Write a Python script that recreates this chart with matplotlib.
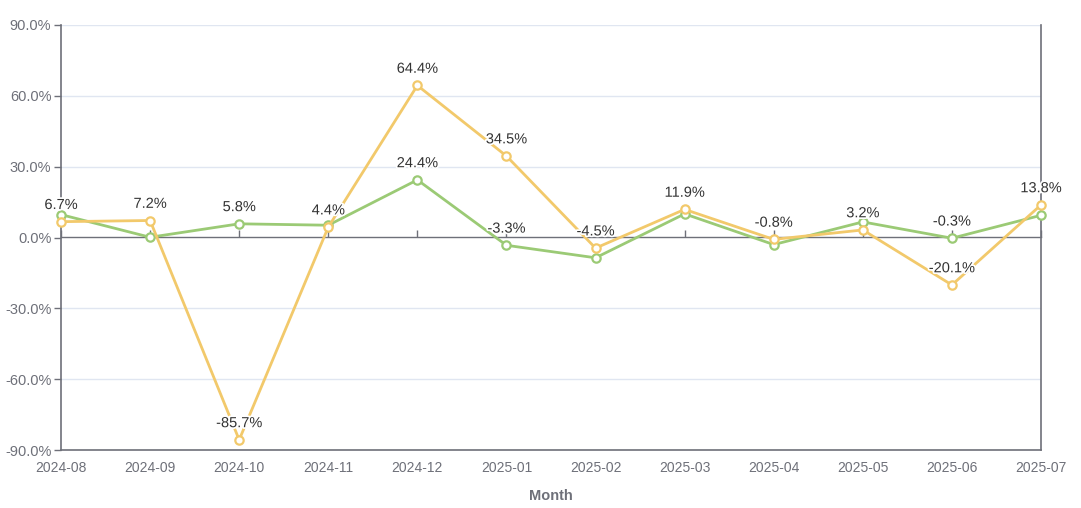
import numpy as np
import matplotlib
matplotlib.use("Agg")
import matplotlib.pyplot as plt
import matplotlib.patheffects as pe

plt.rcParams["font.family"] = ["Liberation Sans", "DejaVu Sans"]

months = ["2024-08", "2024-09", "2024-10", "2024-11", "2024-12", "2025-01",
          "2025-02", "2025-03", "2025-04", "2025-05", "2025-06", "2025-07"]
yellow_vals = [6.7, 7.2, -85.7, 4.4, 64.4, 34.5, -4.5, 11.9, -0.8, 3.2, -20.1, 13.8]
green_vals = [9.7, 0.1, 5.8, 5.2, 24.4, -3.3, -8.6, 10.0, -3.0, 6.6, -0.3, 9.4]
# labels that stay visible for the green series (others hidden by overlap)
green_shown = [False, False, True, False, True, True, False, False, False, False, True, False]
yticks = [-90, -60, -30, 0, 30, 60, 90]

YELLOW, GREEN, AXIS, GRID = "#f2c96b", "#9bca75", "#6e7079", "#e0e6f1"

fig = plt.figure(figsize=(10.81, 5.08), dpi=100)
ax = fig.add_axes([61 / 1081, 58 / 508, 980 / 1081, 425 / 508])
x = np.arange(len(months))

ax.set_xlim(0, len(months) - 1)
ax.set_ylim(-90, 90)
ax.set_yticks(yticks, [f"{v:.1f}%" for v in yticks])
ax.set_xticks(x, months)
for v in yticks:
    if v != 0:
        ax.axhline(v, color=GRID, lw=1, zorder=0)

for s in ["left", "right", "bottom"]:
    ax.spines[s].set_color(AXIS)
    ax.spines[s].set_linewidth(1.2)
ax.spines["top"].set_visible(False)
ax.tick_params(axis="y", colors=AXIS, labelsize=10.5, length=5, width=1, pad=2)
ax.tick_params(axis="x", colors=AXIS, labelsize=10, length=0, pad=8)

# zero axis line with ticks
sec = ax.secondary_xaxis(0.5)
sec.set_xticks(x, [""] * len(x))
sec.tick_params(axis="x", direction="out", length=5, width=1, color=AXIS)
for s in sec.spines.values():
    s.set_color(AXIS)
    s.set_linewidth(1)

halo = [pe.withStroke(linewidth=2.5, foreground="white")]

ax.plot(x, green_vals, color=GREEN, lw=2, marker="o", ms=6, mfc="white",
        mec=GREEN, mew=1.6, zorder=3, clip_on=False)
ax.plot(x, yellow_vals, color=YELLOW, lw=2, marker="o", ms=6, mfc="white",
        mec=YELLOW, mew=1.6, zorder=4, clip_on=False)

for xi, v in zip(x, yellow_vals):
    ax.annotate(f"{v:.1f}%", (xi, v), xytext=(0, 12), textcoords="offset points",
                ha="center", va="center", fontsize=10.5, color="#333333",
                path_effects=halo, zorder=6, annotation_clip=False)
for xi, v, show in zip(x, green_vals, green_shown):
    if show:
        ax.annotate(f"{v:.1f}%", (xi, v), xytext=(0, 12), textcoords="offset points",
                    ha="center", va="center", fontsize=10.5, color="#333333",
                    path_effects=halo, zorder=6, annotation_clip=False)

ax.set_xlabel("Month", fontsize=10.5, fontweight="bold", color=AXIS, labelpad=10)

fig.savefig("out.png", dpi=100)
